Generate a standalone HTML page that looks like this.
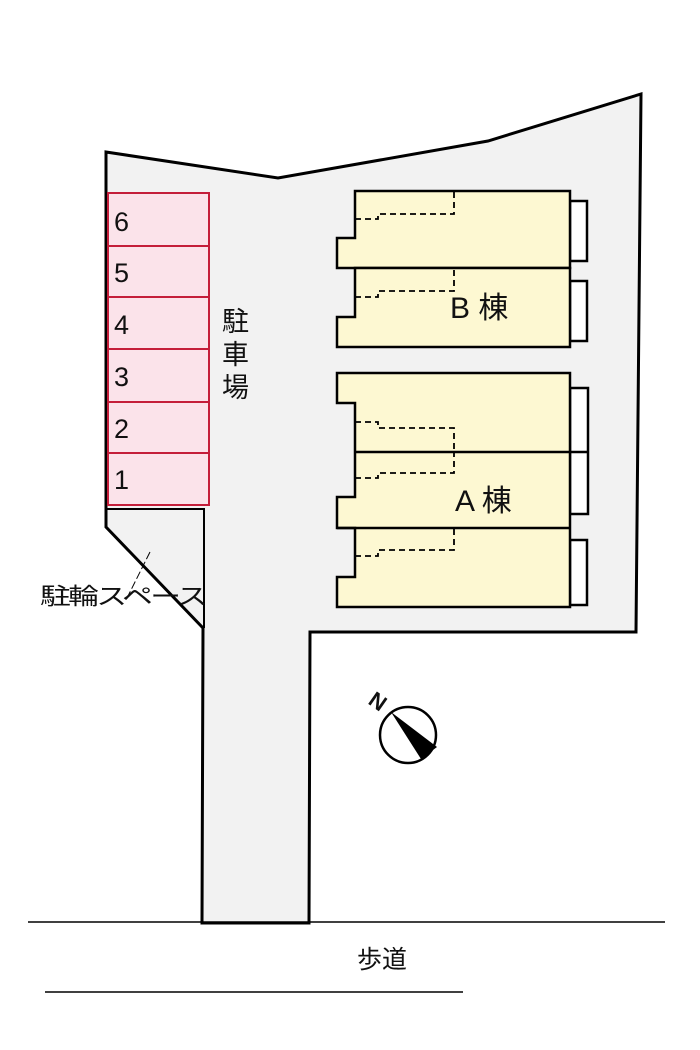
<!DOCTYPE html>
<html><head><meta charset="utf-8"><style>html,body{margin:0;padding:0;background:#fff}svg{display:block}
text{font-family:"Liberation Sans","Noto Sans CJK JP",sans-serif;fill:#111}</style></head>
<body>
<svg width="700" height="1050" viewBox="0 0 700 1050" xmlns="http://www.w3.org/2000/svg">
<polygon points="106,152 278,178 488,141 641,94 636,632 310,632 309,923 202,923 203,628 106,527" fill="#f2f2f2" stroke="#000" stroke-width="3" stroke-linejoin="miter"/>
<polyline points="107,509 204,509 204,628" fill="none" stroke="#000" stroke-width="2"/>
<line x1="150" y1="552" x2="126" y2="600" stroke="#000" stroke-width="1" stroke-dasharray="8,3"/>
<text x="40" y="604" font-size="23" letter-spacing="-2" textLength="165" lengthAdjust="spacingAndGlyphs">駐輪スペース</text>
<g fill="#fbe3ea" stroke="#c41e3a" stroke-width="2">
<rect x="108" y="193" width="101" height="53"/>
<rect x="108" y="246" width="101" height="51"/>
<rect x="108" y="297" width="101" height="52"/>
<rect x="108" y="349" width="101" height="53"/>
<rect x="108" y="402" width="101" height="51"/>
<rect x="108" y="453" width="101" height="52"/>
</g>
<g font-size="27">
<text x="114" y="231">6</text><text x="114" y="282">5</text><text x="114" y="334">4</text>
<text x="114" y="386">3</text><text x="114" y="438">2</text><text x="114" y="489">1</text>
</g>
<g font-size="27"><text x="222" y="331">駐</text><text x="222" y="364">車</text><text x="222" y="397">場</text></g>
<g fill="#fdf8d2" stroke="#000" stroke-width="2.5">
<rect x="570" y="201" width="17" height="60" fill="#fff"/>
<rect x="570" y="281" width="17" height="60" fill="#fff"/>
<polygon points="355,191 570,191 570,268 337,268 337,238 355,238"/>
<polygon points="355,268 570,268 570,347 337,347 337,317 355,317"/>
<rect x="570" y="388" width="18" height="126" fill="#fff"/>
<line x1="570" y1="452" x2="588" y2="452"/>
<rect x="570" y="540" width="17" height="65" fill="#fff"/>
<polygon points="337,373 570,373 570,607 337,607 337,577 355,577 355,528 337,528 337,497 355,497 355,403 337,403"/>
<line x1="355" y1="452" x2="570" y2="452"/>
<line x1="337" y1="528" x2="570" y2="528"/>
</g>
<g fill="none" stroke="#000" stroke-width="1.8" stroke-dasharray="6,4">
<polyline points="355,219 378,219 378,214 454,214 454,192"/>
<polyline points="355,297 378,297 378,291 454,291 454,269"/>
<polyline points="355,422 378,422 378,428 454,428 454,452"/>
<polyline points="355,478 378,478 378,473 454,473 454,453"/>
<polyline points="355,556 378,556 378,550 454,550 454,529"/>
</g>
<text x="450" y="318" font-size="30">B 棟</text>
<text x="455" y="511" font-size="30">A 棟</text>
<circle cx="408" cy="735" r="28" fill="#fff" stroke="#000" stroke-width="2.5"/>
<polygon points="391,712 437,747 421,759" fill="#000"/>
<text x="0" y="0" font-size="22" font-weight="bold" transform="translate(367,703) rotate(35)">N</text>
<line x1="28" y1="922" x2="665" y2="922" stroke="#000" stroke-width="1.5"/>
<line x1="45" y1="992" x2="463" y2="992" stroke="#000" stroke-width="1.5"/>
<text x="357" y="968" font-size="25">歩道</text>
</svg>
</body></html>
